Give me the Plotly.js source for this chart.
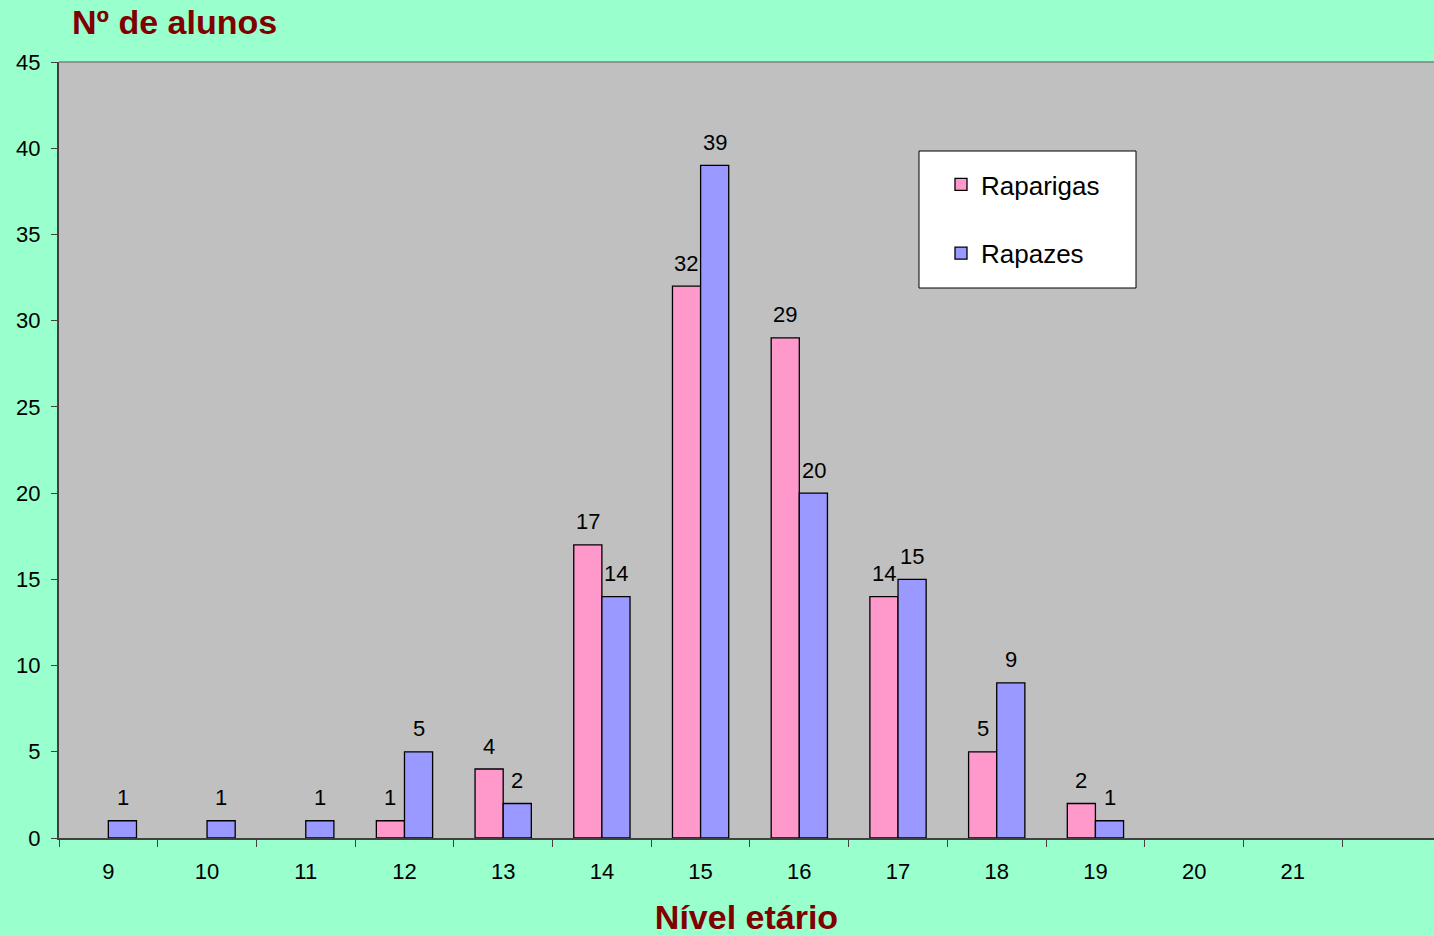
<!DOCTYPE html>
<html>
<head>
<meta charset="utf-8">
<script src="https://cdn.plot.ly/plotly-3.0.1.min.js"></script>
<style>html,body{margin:0;padding:0;background:#99FFCC;}#chart{width:1434px;height:936px;}</style>
</head>
<body>
<div id="chart"></div>
<script>
const categories = ['9','10','11','12','13','14','15','16','17','18','19','20','21'];
const raparigas = [0,0,0,1,4,17,32,29,14,5,2,0,0];
const rapazes = [1,1,1,5,2,14,39,20,15,9,1,0,0];
const yTicks = [0,5,10,15,20,25,30,35,40,45];

const FONT = 'Liberation Sans, Arial, sans-serif';
// zero-height bars are not drawn (no outline stub) in the original
const shown = v => v.map(x => x === 0 ? null : x);

const traces = [
  {type:'bar', name:'Raparigas', x:categories, y:shown(raparigas), legendgroup:'a',
   marker:{color:'#FF99CC', line:{color:'#000', width:1.3}}, hoverinfo:'none'},
  {type:'bar', name:'Rapazes', x:categories, y:shown(rapazes), legendgroup:'b',
   marker:{color:'#9999FF', line:{color:'#000', width:1.3}}, hoverinfo:'none'}
];

// value labels above bars
const annotations = [];
[[raparigas, -14.2], [rapazes, 14.2]].forEach(([vals, dx]) => {
  vals.forEach((v, i) => {
    if (v === 0) return;
    annotations.push({x: i, y: v, xref:'x', yref:'y', text: String(v),
      showarrow:false, xanchor:'center', yanchor:'middle', xshift:dx, yshift:23,
      font:{family:FONT, size:22, color:'#000'}});
  });
});

const layout = {
  width:1434, height:936,
  paper_bgcolor:'#99FFCC', plot_bgcolor:'#C0C0C0',
  margin:{l:59, r:0, t:62, b:98},
  font:{family:FONT, size:22, color:'#000'},
  barmode:'group', bargap:0.43, bargroupgap:0,
  title:{text:'Nº de alunos', xref:'container', yref:'container', x:72/1434, xanchor:'left',
         y:1-22/936, yanchor:'middle',
         font:{family:FONT, size:34, color:'#800000', weight:'bold'}},
  xaxis:{type:'category', categoryorder:'array', categoryarray:categories,
         range:[-0.5, 13.43], tickson:'boundaries', ticks:'outside', ticklen:7, tickcolor:'#404040',
         showline:true, linecolor:'#404040', linewidth:1.5, showgrid:false,
         ticklabelstandoff:13, tickfont:{size:22},
         title:{text:'Nível etário', standoff:24,
                font:{family:FONT, size:34, color:'#800000', weight:'bold'}},
         fixedrange:true},
  yaxis:{range:[0,45], tickvals:yTicks, ticks:'outside', ticklen:6, tickcolor:'#404040',
         showline:true, linecolor:'#404040', linewidth:2, showgrid:false, zeroline:false,
         ticklabelstandoff:6, tickfont:{size:22}, fixedrange:true},
  showlegend:true,
  legend:{x:(941-59)/1375, y:(838-161)/776, xanchor:'left', yanchor:'top',
          bgcolor:'rgba(0,0,0,0)', borderwidth:0, font:{size:26},
          traceorder:'grouped', tracegroupgap:32},
  annotations: annotations,
  shapes:[
    {type:'line', xref:'paper', yref:'paper', x0:0, x1:1, y0:1, y1:1, line:{color:'#808080', width:1.5}},
    {type:'rect', xref:'paper', yref:'paper', x0:(919-59)/1375, x1:(1136-59)/1375,
     y0:(838-288)/776, y1:(838-151)/776, fillcolor:'#FFFFFF', line:{color:'#000', width:1}, layer:'above'}
  ]
};

Plotly.newPlot('chart', traces, layout, {displayModeBar:false, staticPlot:true});
</script>
</body>
</html>
